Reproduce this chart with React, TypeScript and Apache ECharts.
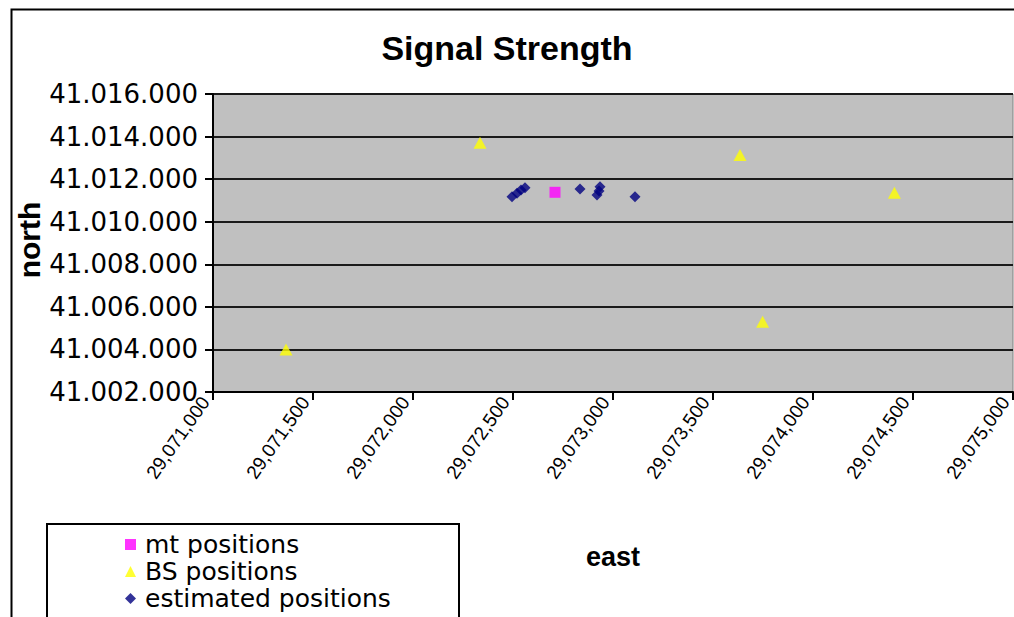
import React, { useEffect, useRef } from "react";
import * as echarts from "echarts";

const seriesNames = ["mt positions", "BS positions", "estimated positions"];
const mtEast = [29072710];
const mtNorth = [41011382];
const bsEast = [29071365, 29072335, 29073635, 29073748, 29074407];
const bsNorth = [41004000, 41013712, 41013134, 41005303, 41011363];
const estEast = [29072495, 29072520, 29072540, 29072560, 29072835, 29072935, 29072930, 29072920, 29073110];
const estNorth = [41011175, 41011335, 41011490, 41011598, 41011537, 41011645, 41011443, 41011255, 41011175];

const zip = (xs: number[], ys: number[]) => xs.map((x, i) => [x, ys[i]]);
const fmt = (v: number, sep: string) =>
  Math.round(v).toString().replace(/\B(?=(\d{3})+(?!\d))/g, sep);

export default function App() {
  const ref = useRef<HTMLDivElement>(null);
  useEffect(() => {
    if (!ref.current) return;
    const chart = echarts.init(ref.current, null, { renderer: "svg" });
    chart.setOption({
      animation: false,
      backgroundColor: "#ffffff",
      title: {
        text: "Signal Strength",
        left: "center",
        top: 26,
        textStyle: { fontFamily: "Liberation Sans", fontWeight: "bold", fontSize: 34, color: "#000" },
      },
      grid: {
        left: 213,
        right: 1,
        top: 94,
        bottom: 225,
        containLabel: false,
        outerBoundsMode: "none",
        show: true,
        backgroundColor: "#c0c0c0",
        borderColor: "#808080",
        borderWidth: 1,
      },
      xAxis: {
        type: "value",
        min: 29071000,
        max: 29075000,
        interval: 500,
        name: "east",
        nameLocation: "middle",
        nameGap: 151,
        nameTextStyle: { fontFamily: "Liberation Sans", fontWeight: "bold", fontSize: 27, color: "#000" },
        axisLine: { show: true, lineStyle: { color: "#000", width: 2 } },
        axisTick: { show: true, inside: false, length: 8, lineStyle: { color: "#000", width: 2 } },
        splitLine: { show: false },
        axisLabel: {
          rotate: 55,
          margin: 12,
          verticalAlign: "bottom",
          fontFamily: "Liberation Sans",
          fontSize: 19,
          color: "#000",
          formatter: (v: number) => fmt(v, ","),
        },
      },
      yAxis: {
        type: "value",
        min: 41002000,
        max: 41016000,
        interval: 2000,
        axisLine: { show: true, lineStyle: { color: "#000", width: 2 } },
        axisTick: { show: true, inside: false, length: 8, lineStyle: { color: "#000", width: 2 } },
        splitLine: { show: true, lineStyle: { color: "#1a1a1a", width: 2 } },
        axisLabel: {
          margin: 15,
          fontFamily: "DejaVu Sans",
          fontSize: 26,
          color: "#000",
          formatter: (v: number) => fmt(v, "."),
        },
      },
      legend: {
        orient: "vertical",
        left: 125,
        top: 532,
        padding: 0,
        itemGap: 2,
        itemWidth: 11,
        itemHeight: 11,
        data: [
          { name: seriesNames[0], icon: "rect" },
          { name: seriesNames[1], icon: "triangle" },
          { name: seriesNames[2], icon: "diamond" },
        ],
        textStyle: { fontFamily: "DejaVu Sans", fontSize: 25, lineHeight: 24, color: "#000", padding: [0, 0, 0, 4] },
      },
      graphic: [
        {
          type: "rect",
          left: 9,
          top: 7,
          shape: { width: 1100, height: 700 },
          style: { fill: "none", stroke: "#000", lineWidth: 2 },
          silent: true,
          z: -1,
        },
        {
          type: "rect",
          shape: { x: 47, y: 524, width: 412, height: 200 },
          style: { fill: "#fff", stroke: "#000", lineWidth: 2 },
          silent: true,
          z: 0,
        },
        {
          type: "text",
          x: 29,
          y: 240,
          rotation: Math.PI / 2,
          silent: true,
          style: {
            text: "north",
            align: "center",
            verticalAlign: "middle",
            fontFamily: "Liberation Sans",
            fontWeight: "bold",
            fontSize: 30,
            fill: "#000",
          },
        },
      ],
      series: [
        {
          name: seriesNames[0],
          type: "scatter",
          symbol: "rect",
          symbolSize: 11,
          itemStyle: { color: "#ff00ff" },
          data: zip(mtEast, mtNorth),
          z: 3,
        },
        {
          name: seriesNames[1],
          type: "scatter",
          symbol: "triangle",
          symbolSize: [13, 12],
          itemStyle: { color: "#ffff00" },
          data: zip(bsEast, bsNorth),
          z: 3,
        },
        {
          name: seriesNames[2],
          type: "scatter",
          symbol: "diamond",
          symbolSize: 11,
          itemStyle: { color: "#000080" },
          data: zip(estEast, estNorth),
          z: 3,
        },
      ],
    });
    return () => chart.dispose();
  }, []);
  return (
    <div
      ref={ref}
      style={{ position: "absolute", left: 0, top: 0, width: 1014, height: 617 }}
    />
  );
}
